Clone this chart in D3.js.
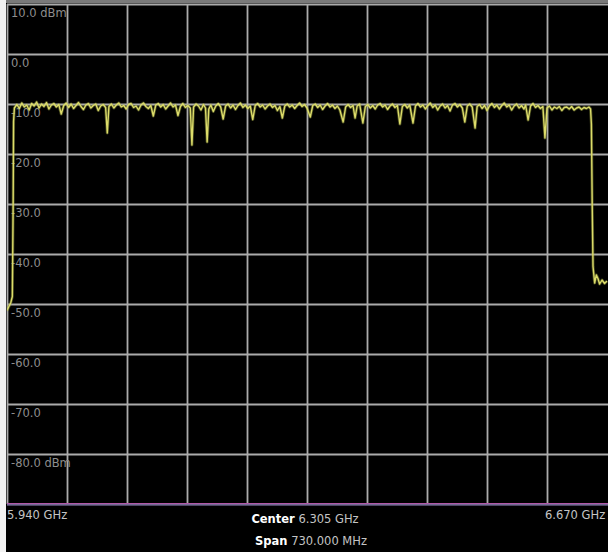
<!DOCTYPE html>
<html>
<head>
<meta charset="utf-8">
<script src="https://cdn.jsdelivr.net/npm/d3@7"></script>
<style>
  body { margin: 0; background: #000; }
  svg { display: block; }
</style>
</head>
<body>
<div id="dv"></div>
<script>
// frequency grid (MHz) and level grid (dBm)
var freqGrid = [5940, 6013, 6086, 6159, 6232, 6305, 6378, 6451, 6524, 6597];
var levelGrid = [10, 0, -10, -20, -30, -40, -50, -60, -70, -80];
var levelLabels = ["10.0 dBm", "0.0", "-10.0", "-20.0", "-30.0", "-40.0", "-50.0", "-60.0", "-70.0", "-80.0 dBm"];
var startLabel = "5.940 GHz";
var stopLabel = "6.670 GHz";
var centerText = ["Center", " 6.305 GHz"];
var spanText = ["Span", " 730.000 MHz"];

// trace points [MHz, dBm]
var trace = [
  [5940, -51.3], [5942, -50.6], [5944.5, -49.8], [5946.5, -48.5], [5947.5, -30], [5948, -13.5], [5949, -10.8],
  [5952, -10.1], [5955, -10.9], [5958, -9.8], [5961, -10.6], [5964, -10.2], [5967, -11.2], [5970, -9.9],
  [5973, -10.4], [5976, -9.6], [5979, -10.8], [5982, -10.0], [5985, -10.5], [5988, -9.7], [5991, -11.0],
  [5994, -10.2], [5997, -9.9], [6000, -10.6], [6003, -10.1], [6006, -12.0], [6009, -10.3], [6012, -9.8],
  [6015, -10.7], [6018, -10.0], [6021, -10.9], [6024, -10.3], [6027, -9.7], [6030, -10.5], [6033, -11.1],
  [6036, -10.2], [6039, -9.9], [6042, -10.8], [6045, -10.3], [6048, -10.0], [6051, -11.3], [6054, -10.4],
  [6057, -10.1], [6060, -10.7], [6062, -15.8], [6064, -10.5], [6067, -10.0], [6070, -10.8], [6073, -10.2],
  [6076, -9.8], [6079, -10.6], [6082, -10.3], [6085, -11.0], [6088, -10.1], [6091, -9.9], [6094, -10.7],
  [6097, -10.4], [6100, -11.2], [6103, -10.2], [6106, -9.8], [6109, -10.5], [6112, -10.9], [6115, -10.3],
  [6118, -12.4], [6121, -10.2], [6124, -9.9], [6127, -10.6], [6130, -10.1], [6133, -11.0], [6136, -10.4],
  [6139, -9.8], [6142, -10.6], [6145, -10.2], [6148, -12.3], [6151, -10.5], [6154, -9.9], [6157, -10.7],
  [6160, -10.3], [6163, -10.8], [6165, -18.2], [6167, -10.6], [6170, -10.0], [6173, -10.4], [6176, -11.2],
  [6179, -10.1], [6181.5, -10.8], [6183.5, -17.6], [6185.5, -11.0], [6188, -10.2], [6191, -11.5], [6194, -10.4],
  [6197, -9.9], [6200, -10.6], [6203, -13.0], [6206, -10.4], [6209, -10.0], [6212, -10.8], [6215, -10.2],
  [6218, -11.1], [6221, -10.3], [6224, -9.8], [6227, -10.7], [6230, -10.2], [6233, -10.9], [6236, -10.4],
  [6239, -13.1], [6242, -10.3], [6245, -9.9], [6248, -10.6], [6251, -10.2], [6254, -11.0], [6257, -10.4],
  [6260, -10.0], [6263, -10.7], [6266, -10.3], [6269, -11.3], [6272, -10.5], [6275, -12.8], [6278, -10.4],
  [6281, -10.0], [6284, -10.6], [6287, -10.2], [6290, -10.9], [6293, -10.3], [6296, -9.8], [6299, -10.5],
  [6302, -10.1], [6305, -10.8], [6309, -12.6], [6312, -10.3], [6315, -10.0], [6318, -10.7], [6321, -10.2],
  [6324, -11.1], [6327, -10.4], [6330, -9.9], [6333, -10.6], [6336, -10.2], [6339, -10.9], [6342, -10.4],
  [6345, -11.2], [6349, -13.6], [6352, -10.6], [6355, -10.1], [6358, -10.7], [6361, -10.3], [6363.5, -12.8],
  [6366, -10.4], [6369, -10.0], [6373, -13.8], [6376, -10.5], [6379, -10.1], [6382, -10.8], [6385, -10.3],
  [6388, -11.0], [6391, -10.2], [6394, -9.9], [6397, -10.6], [6400, -10.2], [6403, -11.1], [6406, -10.4],
  [6409, -10.0], [6412, -10.7], [6415, -10.3], [6418, -14.0], [6421, -10.5], [6424, -10.1], [6427, -10.8],
  [6430, -10.2], [6434, -13.8], [6437, -10.4], [6440, -9.9], [6443, -10.6], [6446, -10.2], [6449, -11.0],
  [6452, -10.3], [6455, -9.8], [6458, -10.7], [6461, -10.2], [6464, -11.2], [6467, -10.4], [6470, -10.0],
  [6473, -10.8], [6476, -10.3], [6479, -11.4], [6482, -10.2], [6485, -9.9], [6488, -10.6], [6491, -10.1],
  [6494, -10.8], [6497, -13.6], [6500, -10.4], [6503, -10.0], [6506, -10.6], [6509.5, -14.8], [6512, -10.5],
  [6515, -10.1], [6518, -10.9], [6521, -10.3], [6524, -11.3], [6527, -10.4], [6530, -9.9], [6533, -10.7],
  [6536, -10.2], [6539, -11.0], [6542, -10.3], [6545, -9.8], [6548, -10.6], [6551, -10.2], [6554, -11.2],
  [6557, -10.4], [6560, -10.0], [6563, -10.8], [6566, -10.3], [6569, -11.0], [6571, -10.2], [6574, -13.2],
  [6577, -10.4], [6580, -9.9], [6583, -10.7], [6586, -10.3], [6589, -10.9], [6592, -10.5], [6594.5, -16.8],
  [6597, -10.8], [6600, -10.4], [6603, -11.2], [6606, -10.6], [6609, -10.9], [6612, -10.5], [6615, -11.3],
  [6618, -10.7], [6621, -10.6], [6624, -11.0], [6627, -10.5], [6630, -11.2], [6633, -10.8], [6636, -10.6],
  [6639, -11.1], [6642, -10.7], [6645, -10.9], [6648, -10.6], [6650, -11.0], [6651, -14], [6652, -30],
  [6653, -42.5], [6655, -45.8], [6657, -44.2], [6659, -44.9], [6661, -46.0], [6664, -45.2], [6667, -45.9],
  [6670, -45.4]
];

var width = 608;
var height = 552;
var plotLeft = 7, plotRight = 607, plotTop = 4, plotBottom = 504;
var font = "DejaVu Sans, sans-serif";

var svg = d3
  .select("div#dv")
  .append("svg")
  .attr("width", width)
  .attr("height", height);

svg.append("rect").attr("width", width).attr("height", height).attr("fill", "#000");
// screen bezel bits
svg.append("rect").attr("width", width).attr("height", 3).attr("fill", "#7a7a7a");
svg.append("rect").attr("width", 6).attr("height", height).attr("fill", "#f2f2f2");

var x = d3.scaleLinear().domain([5940, 6670]).range([plotLeft, plotRight]);
var y = d3.scaleLinear().domain([-90, 10]).range([plotBottom, plotTop]);

// grid
var xGrid = d3.axisBottom(x).tickValues(freqGrid).tickSize(-(plotBottom - plotTop)).tickFormat("");
var yGrid = d3.axisLeft(y).tickValues(levelGrid).tickSize(-(width - plotLeft)).tickFormat("");

svg.append("g")
  .attr("transform", "translate(0," + plotBottom + ")")
  .call(xGrid)
  .call(function(g) { g.select(".domain").remove(); })
  .selectAll("line")
  .attr("stroke", "#ababab")
  .attr("stroke-width", 1.8);

svg.append("g")
  .attr("transform", "translate(" + plotLeft + ",0)")
  .call(yGrid)
  .call(function(g) { g.select(".domain").remove(); })
  .selectAll("line")
  .attr("stroke", "#ababab")
  .attr("stroke-width", 1.8);

// reference line at the bottom
svg.append("line")
  .attr("x1", plotLeft).attr("x2", width)
  .attr("y1", y(-90) - 0.5).attr("y2", y(-90) - 0.5)
  .attr("stroke", "#b058a8")
  .attr("stroke-width", 1.2);
svg.append("line")
  .attr("x1", plotLeft).attr("x2", width)
  .attr("y1", y(-90) + 0.8).attr("y2", y(-90) + 0.8)
  .attr("stroke", "#9c8cc8")
  .attr("stroke-width", 1.2);

// level labels
svg.append("g")
  .selectAll("text")
  .data(levelGrid)
  .enter()
  .append("text")
  .attr("x", 11)
  .attr("y", function(d) { return y(d) + 12.5; })
  .style("font-family", font)
  .style("font-size", "11.5px")
  .attr("fill", "#8e8e8e")
  .text(function(d, i) { return levelLabels[i]; });

// trace
svg.append("clipPath").attr("id", "plot")
  .append("rect").attr("x", plotLeft).attr("y", plotTop)
  .attr("width", width - plotLeft).attr("height", plotBottom - plotTop);

var line = d3.line()
  .x(function(d) { return x(d[0]); })
  .y(function(d) { return y(d[1]); });

// soft halo under the trace, like the blurred screen capture
svg.append("path")
  .datum(trace)
  .attr("clip-path", "url(#plot)")
  .attr("fill", "none")
  .attr("stroke", "#9aa040")
  .attr("stroke-opacity", 0.45)
  .attr("stroke-width", 3)
  .attr("stroke-linejoin", "round")
  .attr("d", line);

svg.append("path")
  .datum(trace)
  .attr("clip-path", "url(#plot)")
  .attr("fill", "none")
  .attr("stroke", "#dcdc6a")
  .attr("stroke-width", 1.4)
  .attr("stroke-linejoin", "round")
  .attr("d", line);

// frequency labels
svg.append("text")
  .attr("x", x(5940)).attr("y", 519)
  .style("font-family", font).style("font-size", "11.5px")
  .attr("fill", "#c4c4c4")
  .text(startLabel);

svg.append("text")
  .attr("x", 545).attr("y", 519)
  .style("font-family", font).style("font-size", "11.5px")
  .attr("fill", "#c4c4c4")
  .text(stopLabel);

[[centerText, 305, 523], [spanText, 311, 545]].forEach(function(r) {
  var t = svg.append("text")
    .attr("x", r[1]).attr("y", r[2])
    .attr("text-anchor", "middle")
    .style("font-family", font).style("font-size", "11.5px");
  t.append("tspan").attr("fill", "#ffffff").style("font-weight", "bold").text(r[0][0]);
  t.append("tspan").attr("fill", "#c4c4c4").text(r[0][1]);
});
</script>
</body>
</html>
